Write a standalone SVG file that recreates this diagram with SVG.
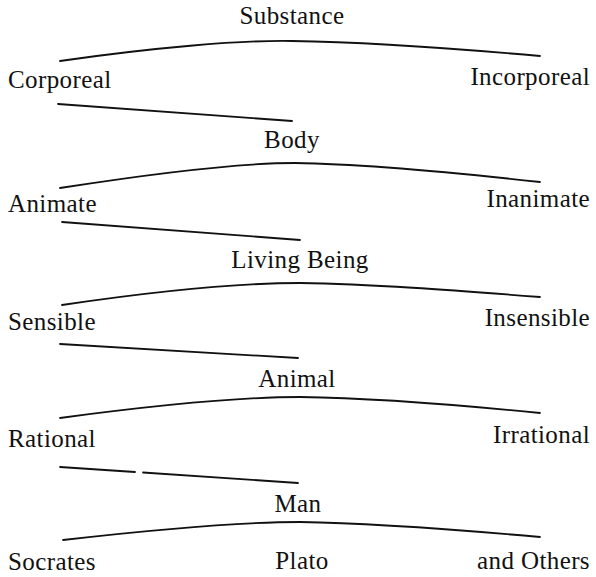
<svg xmlns="http://www.w3.org/2000/svg" width="596" height="577" viewBox="0 0 596 577">
<style>
text{font-family:"Liberation Serif","Times New Roman",serif;font-size:25px;fill:#111;letter-spacing:0.4px}
.c{text-anchor:middle}
.r{text-anchor:end}
.ln{fill:none;stroke:#111;stroke-width:1.8;stroke-linecap:round}
</style>
<rect width="596" height="577" fill="#fff"/>
<g id="connectors">
<path class="ln" d="M60,61 C150,48 240,40 292,41 C360,42 450,48 540,56"/>
<path class="ln" d="M58,104 L292,121"/>
<path class="ln" d="M60,188 C150,174 240,163 295,163 C360,164 450,172 540,182"/>
<path class="ln" d="M62,222 L300,240"/>
<path class="ln" d="M62,305 C150,292 240,283 300,283 C370,284 450,290 540,297"/>
<path class="ln" d="M60,344 L298,358"/>
<path class="ln" d="M60,418 C150,406 240,397 300,397 C370,398 450,404 540,413"/>
<path class="ln" d="M60,467 L135,472 M143,472.5 L298,483"/>
<path class="ln" d="M63,540 C150,530 240,522 300,522 C370,523 450,529 540,537"/>
</g>
<g id="substance"><text class="c" x="292" y="24">Substance</text></g>
<g id="corporeal"><text x="8" y="88">Corporeal</text></g>
<g id="incorporeal"><text class="r" x="590" y="85">Incorporeal</text></g>
<g id="body"><text class="c" x="292" y="148">Body</text></g>
<g id="animate"><text x="8" y="212">Animate</text></g>
<g id="inanimate"><text class="r" x="590" y="207">Inanimate</text></g>
<g id="living-being"><text class="c" x="300" y="268">Living Being</text></g>
<g id="sensible"><text x="8" y="330">Sensible</text></g>
<g id="insensible"><text class="r" x="590" y="326">Insensible</text></g>
<g id="animal"><text class="c" x="297" y="387">Animal</text></g>
<g id="rational"><text x="8" y="447">Rational</text></g>
<g id="irrational"><text class="r" x="590" y="443">Irrational</text></g>
<g id="man"><text class="c" x="298" y="512">Man</text></g>
<g id="socrates"><text x="8" y="570">Socrates</text></g>
<g id="plato"><text class="c" x="302" y="569">Plato</text></g>
<g id="others"><text class="r" x="590" y="569">and Others</text></g>
</svg>
